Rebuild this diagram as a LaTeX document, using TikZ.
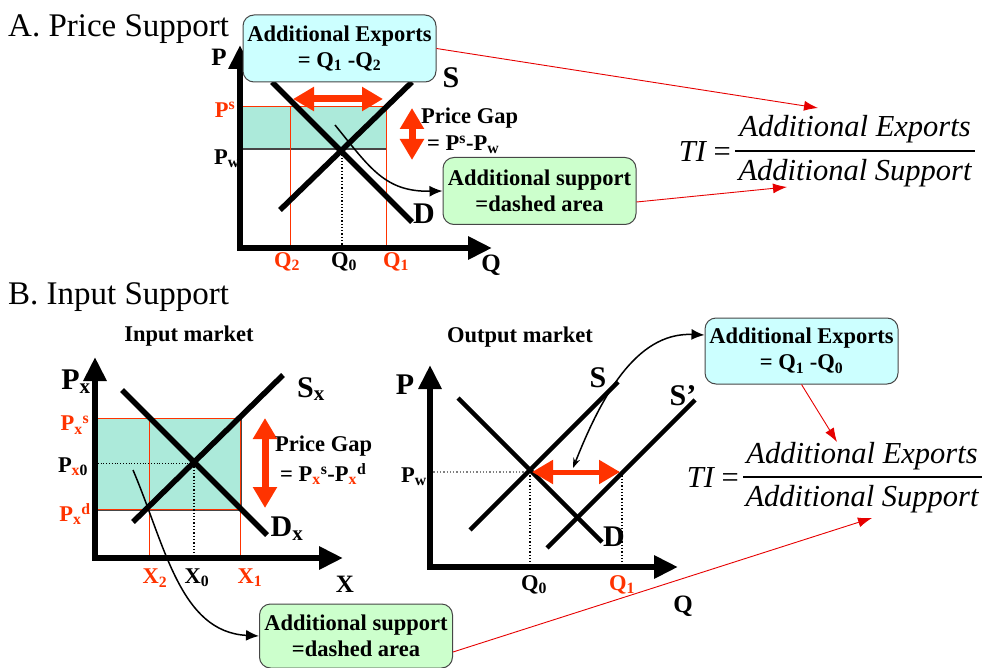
\documentclass[tikz,border=0pt]{standalone}
\usepackage{fontspec}
\setmainfont{Liberation Serif}
\usetikzlibrary{arrows.meta}

\definecolor{labred}{RGB}{255,51,0}
\definecolor{linered}{RGB}{230,0,0}
\definecolor{gapfill}{RGB}{172,234,218}
\definecolor{boxcyan}{RGB}{204,255,255}
\definecolor{boxgreen}{RGB}{204,255,204}
\definecolor{boxline}{RGB}{70,70,70}

\tikzset{
    axis/.style={line width=6pt, line join=miter,
      {Triangle[length=24pt,width=22pt]}-{Triangle[length=24pt,width=22pt]}},
    curveln/.style={line width=5.5pt},
    redthin/.style={draw=labred, line width=1pt},
    edge/.style={draw=boxline, line width=1.2pt},
    dots/.style={dotted, line width=1.3pt},
    gap/.style={draw=labred, line width=7pt,
      {Triangle[length=21pt,width=23pt]}-{Triangle[length=21pt,width=23pt]}},
    bendarrow/.style={-{Latex[length=13pt,width=11pt]}, line width=1.5pt},
    redarrow/.style={draw=linered, line width=0.9pt, -{Latex[length=14pt,width=10pt]}},
    infobox/.style={draw=boxline, line width=1pt, rounded corners=11pt, align=center,
      minimum width=193pt, minimum height=67pt, inner sep=2pt,
      font=\fontsize{22.5}{26}\selectfont\bfseries},
    lbl/.style={inner sep=0pt, font=\fontsize{22.5}{24}\selectfont\bfseries},
    redlbl/.style={lbl, text=labred},
    axlbl/.style={inner sep=0pt, font=\fontsize{25}{26}\selectfont\bfseries},
    biglbl/.style={inner sep=0pt, font=\fontsize{30}{32}\selectfont\bfseries},
    title/.style={inner sep=0pt, anchor=base west, font=\fontsize{33}{36}\selectfont},
    frac/.style={inner sep=0pt, font=\fontsize{30.5}{34}\selectfont\itshape},
}

\begin{document}
\begin{tikzpicture}[x=1pt, y=-1pt]
    \useasboundingbox (0,0) rectangle (984,668);

    % ---- A. Price Support
    \begin{scope}
        \node[title] (titleA) at (8,37) {A. Price Support};
        \fill[gapfill] (240,107) rectangle (387,149);
        \draw[edge] (240,149) -- (387,149);
        \draw[redthin] (240,107) -- (387,107);
        \draw[redthin] (290,107) -- (290,248);
        \draw[redthin] (386,107) -- (386,248);
        \draw[dots] (342,151) -- (342,248);
        \draw[curveln] (280,210) -- (412,82);
        \draw[curveln] (272,82) -- (412,222);
        \draw[axis] (240,45) -- (240,248) -- (492,248);
        \draw[gap] (293,99) -- (383,99);
        \draw[gap] (412,108) -- (412,160);

        \node[infobox, fill=boxcyan] (expA) at (339.5,48.5) {Additional Exports\\= Q\textsubscript{1} -Q\textsubscript{2}};
        \node[infobox, fill=boxgreen] (sboxA) at (539.5,191) {Additional support\\=dashed area};

        \node[axlbl] (pA) at (219,57) {P};
        \node[axlbl] (qA) at (491,265) {Q};
        \node[biglbl] (sA) at (451,78) {S};
        \node[biglbl] (dA) at (424,214) {D};
        \node[redlbl] (psA) at (225,110) {P\textsuperscript{s}};
        \node[lbl] (pwA) at (227,159) {P\textsubscript{w}};
        \node[redlbl] (q2A) at (287,262) {Q\textsubscript{2}};
        \node[lbl] (q0A) at (344,262) {Q\textsubscript{0}};
        \node[redlbl] (q1A) at (396,262) {Q\textsubscript{1}};
        \node[lbl, anchor=west] (gapA1) at (421,118) {Price Gap};
        \node[lbl, anchor=west] (gapA2) at (427,145) {= P\textsuperscript{s}-P\textsubscript{w}};

        \coordinate (fromA) at (335,125);
        \draw[bendarrow] (fromA) .. controls (370,168) and (385,192) .. (sboxA.west);

        % TI formula
        \node[frac, anchor=east] (tiA) at (731,152) {TI \upshape=};
        \node[frac] (numA) at (855,129) {Additional Exports};
        \node[frac] (denA) at (855,173) {Additional Support};
        \draw[line width=1.2pt] (735,151) -- (975,151);
        \coordinate (tipA1) at (818,108);
        \coordinate (tipA2) at (787,187);
        \draw[redarrow] (expA.east) -- (tipA1);
        \draw[redarrow] ([yshift=-11pt]sboxA.east) -- (tipA2);
    \end{scope}

    % ---- B. Input Support
    \begin{scope}
        \node[title] (titleB) at (8,304) {B. Input Support};
        \node[lbl] (inmkt) at (189,336) {Input market};
        \node[lbl] (outmkt) at (520,337) {Output market};

        % input market
        \fill[gapfill] (95,418) rectangle (241,510);
        \draw[edge] (95,510) -- (241,510) -- (241,418);
        \draw[redthin] (95,418) -- (241,418);
        \draw[redthin] (95,509) -- (241,509);
        \draw[redthin] (149,418) -- (149,558);
        \draw[redthin] (240,418) -- (240,558);
        \draw[dots, line width=0.8pt] (95,463) -- (194,463);
        \draw[dots] (194,463) -- (194,558);
        \draw[curveln] (133,522) -- (283,375);
        \draw[curveln] (122,390) -- (267,535);
        \draw[axis] (95,357) -- (95,558) -- (343,558);
        \draw[gap] (265,418) -- (265,508);

        \node[biglbl] (pxB) at (76,382) {P\textsubscript{x}};
        \node[biglbl] (sxB) at (311,389) {S\textsubscript{x}};
        \node[biglbl] (dxB) at (287,529) {D\textsubscript{x}};
        \node[axlbl] (xB) at (345,584) {X};
        \node[redlbl] (pxsB) at (75,425) {P\textsubscript{x}\textsuperscript{s}};
        \node[lbl] (px0B) at (73,467) {P\textsubscript{\textcolor{labred}{x}0}};
        \node[redlbl] (pxdB) at (75,514) {P\textsubscript{x}\textsuperscript{d}};
        \node[redlbl] (x2B) at (155,578) {X\textsubscript{2}};
        \node[lbl] (x0B) at (197,578) {X\textsubscript{0}};
        \node[redlbl] (x1B) at (250,578) {X\textsubscript{1}};
        \node[lbl, anchor=west] (gapB1) at (275,446) {Price Gap};
        \node[lbl, anchor=west] (gapB2) at (280,474) {= P\textsubscript{\textcolor{labred}{x}}\textsuperscript{s}-P\textsubscript{\textcolor{labred}{x}}\textsuperscript{d}};

        \node[infobox, fill=boxgreen, minimum height=64pt] (sboxB) at (356,636) {Additional support\\=dashed area};
        \coordinate (fromB) at (133,470);
        \draw[bendarrow] (fromB) .. controls (165,545) and (180,632) .. (sboxB.west);

        % output market
        \draw[dots, gray] (430,472) -- (621,472);
        \draw[dots] (530,472) -- (530,567);
        \draw[dots] (622,472) -- (622,567);
        \draw[curveln, line width=4.5pt] (470,530) -- (618,382);
        \draw[curveln, line width=4.5pt] (547,548) -- (695,400);
        \draw[curveln, line width=4.5pt] (458,398) -- (602,542);
        \draw[axis] (430,365) -- (430,567) -- (678,567);
        \draw[gap, line width=5pt] (532,472) -- (620,472);

        \node[biglbl] (pO) at (405,385) {P};
        \node[axlbl] (qO) at (683,606) {Q};
        \node[biglbl] (sO) at (598,378) {S};
        \node[biglbl] (s2O) at (683,396) {S’};
        \node[biglbl] (dO) at (614,537) {D};
        \node[lbl] (pwO) at (414,477) {P\textsubscript{w}};
        \node[lbl] (q0O) at (534,585) {Q\textsubscript{0}};
        \node[redlbl] (q1O) at (622,585) {Q\textsubscript{1}};

        \node[infobox, fill=boxcyan, minimum height=66pt] (expB) at (801.5,351) {Additional Exports\\= Q\textsubscript{1} -Q\textsubscript{0}};
        \coordinate (fromO) at (573,468);
        \draw[{Stealth[length=10pt,width=7pt]}-{Latex[length=13pt,width=11pt]}, line width=1.5pt]
            (fromO) .. controls (600,400) and (635,332) .. ([yshift=16pt]expB.west);

        % TI formula
        \node[frac, anchor=east] (tiB) at (739,478) {TI \upshape=};
        \node[frac] (numB) at (862,456) {Additional Exports};
        \node[frac] (denB) at (862,499) {Additional Support};
        \draw[line width=1.2pt] (743,477) -- (982,477);
        \coordinate (tipB1) at (837,442);
        \coordinate (tipB2) at (872,518);
        \draw[redarrow] (expB.south) -- (tipB1);
        \draw[redarrow] ([yshift=-16pt]sboxB.east) -- (tipB2);
    \end{scope}
\end{tikzpicture}
\end{document}
